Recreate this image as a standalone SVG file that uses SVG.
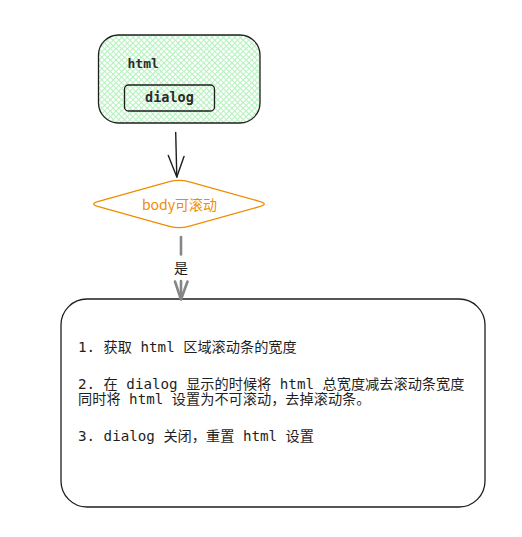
<svg xmlns="http://www.w3.org/2000/svg" width="522" height="537" viewBox="0 0 522 537">
  <style>
    .box { stroke: #1e1e1e; stroke-width: 1.3; stroke-linejoin: round; }
    .nofill { fill: none; }
    .mono { font-family: "DejaVu Sans Mono", "Noto Sans CJK SC", monospace; fill: #1e1e1e; }
    .title { font-weight: bold; fill: #2b2b2b; }
    .body { font-size: 14.2px; }
    .edge { fill: none; stroke-linecap: round; stroke-linejoin: round; }
  </style>
  <defs>
    <pattern id="hatch" width="4" height="4" patternUnits="userSpaceOnUse" patternTransform="rotate(45)">
      <rect width="4" height="4" fill="#ffffff"/>
      <path d="M0,0 H4 M0,0 V4" stroke="#b2f2bb" stroke-width="2"/>
    </pattern>
  </defs>
  <rect width="522" height="537" fill="#ffffff"/>

  <g id="node-html">
    <rect x="98.5" y="35" width="161.5" height="88" rx="20" ry="20" style="fill:url(#hatch)" class="box"/>
    <text x="127.5" y="68" class="mono title" font-size="13">html</text>
  </g>
  <g id="node-dialog">
    <rect x="124.5" y="85" width="90" height="26" rx="4" ry="4" class="box nofill"/>
    <text x="169.5" y="101.5" class="mono title" font-size="13.5" text-anchor="middle">dialog</text>
  </g>

  <g id="node-decision">
    <path d="M169.4,181.7 Q179,179 188.6,181.7 L259.4,201.3 Q269,204 259.4,206.7 L188.6,226.3 Q179,229 169.4,226.3 L98.6,206.7 Q89,204 98.6,201.3 Z" fill="#ffffff" stroke="#f08c00" stroke-width="1.4"/>
    <text x="179.5" y="209.5" font-family="'Noto Sans CJK SC', 'Noto Sans', sans-serif" font-size="14" fill="#f08c00" text-anchor="middle">body可滚动</text>
  </g>

  <g id="node-steps">
    <rect x="61" y="299" width="424" height="208" rx="26" ry="26" class="box nofill"/>
    <text class="mono body" x="78" y="352">1. 获取 html 区域滚动条的宽度</text>
    <text class="mono body" x="78" y="389">2. 在 dialog 显示的时候将 html 总宽度减去滚动条宽度</text>
    <text class="mono body" x="78" y="404">同时将 html 设置为不可滚动，去掉滚动条。</text>
    <text class="mono body" x="78" y="441">3. dialog 关闭，重置 html 设置</text>
  </g>

  <g id="connectors">
    <g class="edge" stroke="#1e1e1e" stroke-width="1.4">
      <path d="M175.7,132.5 L176.8,177"/>
      <path d="M168.3,155.5 L176.8,177 L184,156.5"/>
    </g>
    <g class="edge" stroke="#868686" stroke-width="2.6">
      <path d="M181,237 L181,254.5"/>
      <path d="M181,281 L181,299"/>
      <path d="M175,281.5 L181,299.5 L187.5,281.5"/>
    </g>
    <text x="181" y="273" font-family="'Noto Sans CJK SC', sans-serif" font-size="14" fill="#1e1e1e" text-anchor="middle">是</text>
  </g>
</svg>
